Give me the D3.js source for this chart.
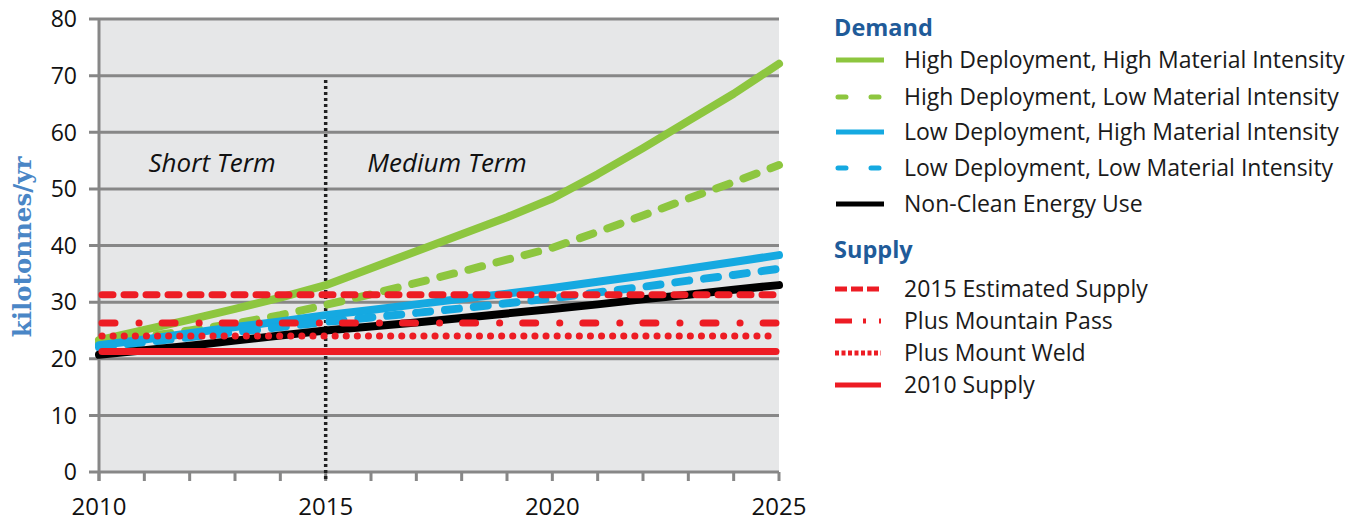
<!DOCTYPE html>
<html>
<head>
<meta charset="UTF-8">
<title>Demand and supply</title>
<script src="https://cdnjs.cloudflare.com/ajax/libs/d3/7.8.5/d3.min.js"></script>
<style>
body { margin: 0; background: #fff; }
svg text { font-family: "Open Sans", Lato, sans-serif; }
</style>
</head>
<body>
<div id="chart"></div>
<script>
/*global d3*/

// ---- data ----
var years = d3.range(2010, 2026);
var yTicks = [0, 10, 20, 30, 40, 50, 60, 70, 80];
var xLabels = [2010, 2015, 2020, 2025];

var hdHighMI = [23.3, 25.1, 26.9, 28.8, 30.8, 33.0, 36.0, 39.0, 42.0, 45.0, 48.3, 52.6, 57.2, 62.0, 66.8, 72.1];
var hdLowMI  = [22.8, 23.9, 25.0, 26.2, 27.7, 29.5, 31.4, 33.4, 35.4, 37.5, 39.6, 42.4, 45.3, 48.3, 51.2, 54.2];
var ldHighMI = [22.4, 23.4, 24.5, 25.6, 26.6, 27.7, 28.6, 29.6, 30.6, 31.5, 32.5, 33.6, 34.7, 35.9, 37.1, 38.3];
var ldLowMI  = [22.0, 22.9, 23.8, 24.7, 25.6, 26.5, 27.3, 28.1, 28.9, 29.8, 30.7, 31.7, 32.7, 33.8, 34.8, 35.9];
var nonClean = [20.7, 21.5, 22.3, 23.2, 24.1, 25.0, 25.7, 26.4, 27.2, 28.0, 28.8, 29.6, 30.5, 31.3, 32.2, 33.0];

var supply2015 = 31.3;
var supplyMountainPass = 26.3;
var supplyMountWeld = 24.0;
var supply2010 = 21.3;

var demandNames = ["High Deployment, High Material Intensity", "High Deployment, Low Material Intensity",
                   "Low Deployment, High Material Intensity", "Low Deployment, Low Material Intensity",
                   "Non-Clean Energy Use"];
var supplyNames = ["2015 Estimated Supply", "Plus Mountain Pass", "Plus Mount Weld", "2010 Supply"];

// ---- styles ----
var green = "#8dc63f", blue = "#15a9e1", red = "#ed1c24";
var demand = [
  {name: demandNames[0], values: hdHighMI, color: green, dash: null},
  {name: demandNames[1], values: hdLowMI,  color: green, dash: "14,15"},
  {name: demandNames[2], values: ldHighMI, color: blue,  dash: null},
  {name: demandNames[3], values: ldLowMI,  color: blue,  dash: "14,15"},
  {name: demandNames[4], values: nonClean, color: "#000", dash: null}
];
var supply = [
  {name: supplyNames[0], value: supply2015,         dash: "11,11",        legendDash: "12,4"},
  {name: supplyNames[1], value: supplyMountainPass, dash: "13,24,0.1,23", legendDash: "17,11,3,13,3,30"},
  {name: supplyNames[2], value: supplyMountWeld,    dash: "0.1,11",       legendDash: "4,2.5"},
  {name: supplyNames[3], value: supply2010,         dash: null,           legendDash: null}
];

var W = 1364, H = 521;
var plotL = 99, plotR = 779, plotT = 19, plotB = 472;

var svg = d3.select("#chart").append("svg")
  .attr("width", W)
  .attr("height", H);

var x = d3.scaleLinear().domain([2010, 2025]).range([plotL, plotR]);
var y = d3.scaleLinear().domain([0, 80]).range([plotB, plotT]);

// plot background
svg.append("rect")
  .attr("x", plotL).attr("y", plotT)
  .attr("width", plotR - plotL).attr("height", plotB - plotT)
  .attr("fill", "#e6e7e8");

// gridlines + y ticks
svg.append("g")
  .selectAll("line")
  .data(yTicks)
  .join("line")
  .attr("x1", plotL - 10).attr("x2", plotR)
  .attr("y1", function(d) { return y(d); })
  .attr("y2", function(d) { return y(d); })
  .attr("stroke", "#878787")
  .attr("stroke-width", 3);

svg.append("g")
  .selectAll("text")
  .data(yTicks)
  .join("text")
  .attr("x", plotL - 22)
  .attr("y", function(d) { return y(d); })
  .attr("dy", "0.36em")
  .attr("text-anchor", "end")
  .attr("font-size", 23)
  .attr("fill", "#111")
  .text(function(d) { return d; });

// y axis line
svg.append("line")
  .attr("x1", plotL).attr("x2", plotL)
  .attr("y1", plotT).attr("y2", plotB + 9)
  .attr("stroke", "#878787").attr("stroke-width", 3);

// x ticks every year
svg.append("g")
  .selectAll("line")
  .data(years)
  .join("line")
  .attr("x1", function(d) { return x(d); })
  .attr("x2", function(d) { return x(d); })
  .attr("y1", plotB).attr("y2", plotB + 9)
  .attr("stroke", "#878787")
  .attr("stroke-width", 3);

svg.append("g")
  .selectAll("text")
  .data(xLabels)
  .join("text")
  .attr("x", function(d) { return x(d); })
  .attr("y", 515)
  .attr("text-anchor", "middle")
  .attr("font-size", 24)
  .attr("fill", "#111")
  .text(function(d) { return d; });

// 2015 divider
svg.append("line")
  .attr("x1", x(2015)).attr("x2", x(2015))
  .attr("y1", 80).attr("y2", plotB + 9)
  .attr("stroke", "#222")
  .attr("stroke-width", 3.5)
  .attr("stroke-dasharray", "3,3");

svg.append("text")
  .attr("x", 212).attr("y", 172)
  .attr("text-anchor", "middle")
  .attr("font-size", 26)
  .attr("font-style", "italic")
  .attr("fill", "#111")
  .text("Short Term");

svg.append("text")
  .attr("x", 447).attr("y", 172)
  .attr("text-anchor", "middle")
  .attr("font-size", 26)
  .attr("font-style", "italic")
  .attr("fill", "#111")
  .text("Medium Term");

// y title
svg.append("text")
  .attr("transform", "translate(31,247) rotate(-90)")
  .attr("text-anchor", "middle")
  .attr("font-size", 24.5)
  .attr("font-weight", "bold")
  .attr("fill", "#4a86c6")
  .style("font-family", "'DejaVu Serif', 'Liberation Serif', serif")
  .text("kilotonnes/yr");

// demand lines
var line = d3.line()
  .x(function(d, i) { return x(years[i]); })
  .y(function(d) { return y(d); });

svg.append("g")
  .selectAll("path")
  .data(demand)
  .join("path")
  .attr("d", function(d) { return line(d.values); })
  .attr("fill", "none")
  .attr("stroke", function(d) { return d.color; })
  .attr("stroke-width", 8)
  .attr("stroke-dasharray", function(d) { return d.dash; })
  .attr("stroke-linecap", "round")
  .attr("stroke-linejoin", "round");

// supply lines (flat)
svg.append("g")
  .selectAll("line")
  .data(supply)
  .join("line")
  .attr("x1", x(2010) + 3).attr("x2", x(2025) - 3)
  .attr("y1", function(d) { return y(d.value); })
  .attr("y2", function(d) { return y(d.value); })
  .attr("stroke", red)
  .attr("stroke-width", 7)
  .attr("stroke-dasharray", function(d) { return d.dash; })
  .attr("stroke-linecap", "round");

// ---- legend ----
var lg = svg.append("g");
lg.append("text")
  .attr("x", 834).attr("y", 36)
  .attr("font-size", 23.5).attr("font-weight", "bold")
  .attr("fill", "#1f5b99")
  .text("Demand");

var demandRowY = [60, 97, 132, 168, 204];
var dRows = lg.selectAll("g.drow")
  .data(demand)
  .join("g")
  .attr("class", "drow")
  .attr("transform", function(d, i) { return "translate(0," + demandRowY[i] + ")"; });

dRows.append("line")
  .attr("x1", function(d) { return d.dash ? 838 : 836; })
  .attr("x2", 884)
  .attr("stroke", function(d) { return d.color; })
  .attr("stroke-width", 5)
  .attr("stroke-dasharray", function(d) { return d.dash ? "8,25" : null; })
  .attr("stroke-linecap", function(d) { return d.dash ? "round" : "butt"; });

dRows.append("text")
  .attr("x", 904).attr("dy", "0.36em")
  .attr("font-size", 23)
  .attr("fill", "#1a1a1a")
  .text(function(d) { return d.name; });

lg.append("text")
  .attr("x", 834).attr("y", 258)
  .attr("font-size", 23.5).attr("font-weight", "bold")
  .attr("fill", "#1f5b99")
  .text("Supply");

var supplyRowY = [289, 321, 353, 385];
var sRows = lg.selectAll("g.srow")
  .data(supply)
  .join("g")
  .attr("class", "srow")
  .attr("transform", function(d, i) { return "translate(0," + supplyRowY[i] + ")"; });

sRows.append("line")
  .attr("x1", 835).attr("x2", 881)
  .attr("stroke", red)
  .attr("stroke-width", 5)
  .attr("stroke-dasharray", function(d) { return d.legendDash; });

sRows.append("text")
  .attr("x", 904).attr("dy", "0.36em")
  .attr("font-size", 23)
  .attr("fill", "#1a1a1a")
  .text(function(d) { return d.name; });
</script>
</body>
</html>
